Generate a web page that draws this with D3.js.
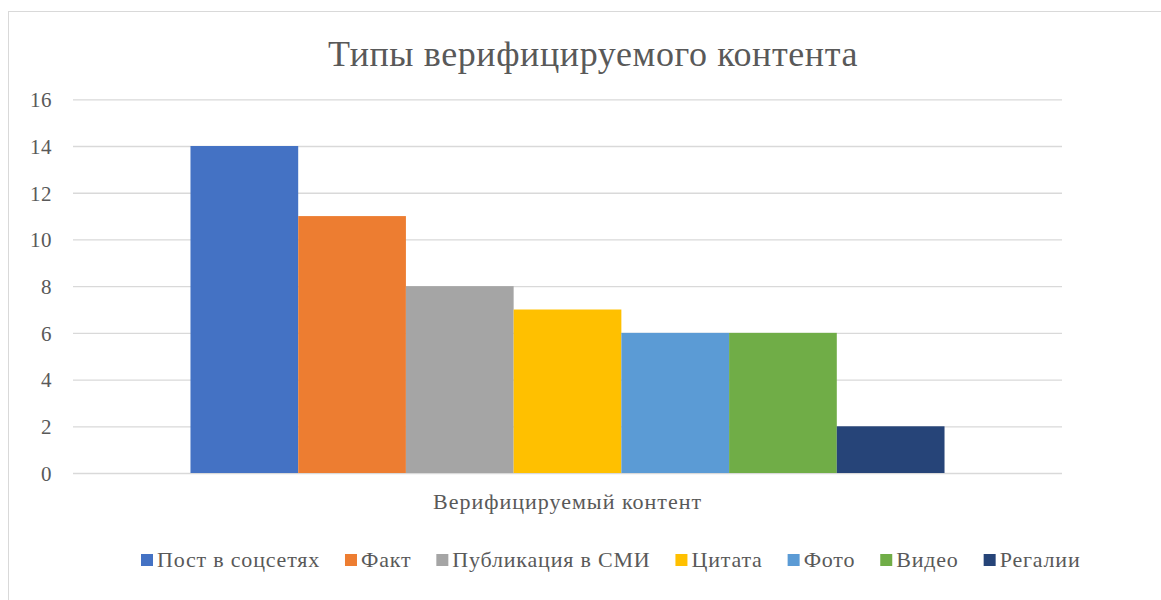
<!DOCTYPE html>
<html lang="ru">
<head>
<meta charset="UTF-8">
<title>Типы верифицируемого контента</title>
<style>
  html, body { margin: 0; padding: 0; background: #fff; }
  svg text { font-family: "Times New Roman", "Liberation Serif", "DejaVu Serif", serif; fill: #595959; }
</style>
</head>
<body>
<div id="target"></div>
<script src="https://d3js.org/d3.v7.min.js"></script>
<script>
// data
const category = "Верифицируемый контент";
const seriesNames = ["Пост в соцсетях", "Факт", "Публикация в СМИ", "Цитата", "Фото", "Видео", "Регалии"];
const seriesValues = [14, 11, 8, 7, 6, 6, 2];
const seriesColors = ["#4472C4", "#ED7D31", "#A5A5A5", "#FFC000", "#5B9BD5", "#70AD47", "#264478"];
const yTicks = [0, 2, 4, 6, 8, 10, 12, 14, 16];

const width = 1161, height = 600;
const plot = { left: 73, right: 1062, top: 99.3, bottom: 473 };

const svg = d3.select("#target").append("svg")
  .attr("width", width)
  .attr("height", height)
  .style("display", "block");

// chart border
svg.append("rect")
  .attr("x", 8.5).attr("y", 11.5)
  .attr("width", 1180).attr("height", 620)
  .attr("fill", "none")
  .attr("stroke", "#d9d9d9");

const y = d3.scaleLinear().domain([0, 16]).range([plot.bottom, plot.top]);
const x0 = d3.scaleBand().domain([category]).range([plot.left, plot.right]).paddingInner(0).paddingOuter(0.1558);
const x1 = d3.scaleBand().domain(seriesNames).range([0, x0.bandwidth()]);

// gridlines
const yAxis = d3.axisLeft(y).tickValues(yTicks).tickSize(-(plot.right - plot.left)).tickFormat(d3.format("d"));
const ga = svg.append("g")
  .attr("transform", `translate(${plot.left},0)`)
  .call(yAxis)
  .attr("font-family", null);
ga.select(".domain").remove();
ga.selectAll(".tick line").attr("stroke", "#d9d9d9").attr("stroke-width", 1.3);
ga.selectAll(".tick text")
  .attr("x", -21)
  .attr("dy", "0.35em")
  .style("font-size", "21px")
  .style("letter-spacing", "0.5px")
  .attr("fill", "#595959");

// bars
const g = svg.append("g").attr("transform", `translate(${x0(category)},0)`);
g.selectAll("rect")
  .data(seriesNames.map((n, i) => ({ name: n, value: seriesValues[i], color: seriesColors[i] })))
  .join("rect")
  .attr("x", d => x1(d.name))
  .attr("y", d => y(d.value))
  .attr("width", x1.bandwidth())
  .attr("height", d => y(0) - y(d.value))
  .attr("fill", d => d.color);

// title
svg.append("text")
  .attr("x", 593).attr("y", 66)
  .attr("text-anchor", "middle")
  .style("font-size", "36px")
  .style("letter-spacing", "0.6px")
  .text("Типы верифицируемого контента");

// category label
svg.append("text")
  .attr("x", (plot.left + plot.right) / 2).attr("y", 509)
  .attr("text-anchor", "middle")
  .style("font-size", "22px")
  .style("letter-spacing", "1px")
  .text(category);

// legend
const legend = svg.append("g");
let lx = 141;
seriesNames.forEach((n, i) => {
  legend.append("rect")
    .attr("x", lx).attr("y", 554)
    .attr("width", 12).attr("height", 12)
    .attr("fill", seriesColors[i]);
  const t = legend.append("text")
    .attr("x", lx + 16).attr("y", 567)
    .style("font-size", "22px")
    .style("letter-spacing", "0.8px")
    .text(n);
  lx += 16 + t.node().getComputedTextLength() + 25;
});
</script>
</body>
</html>
